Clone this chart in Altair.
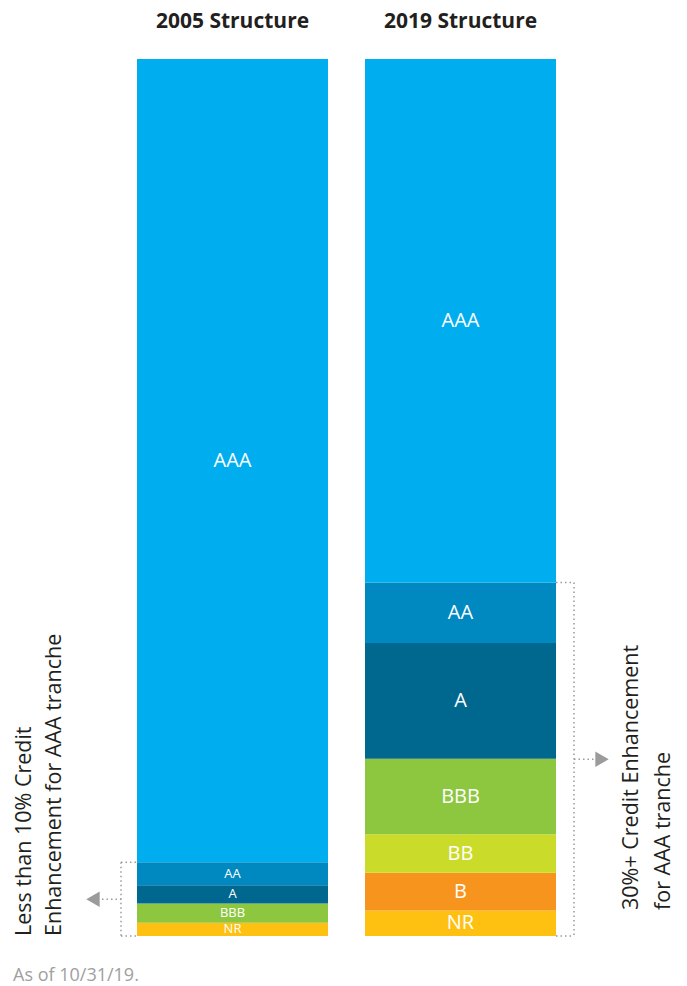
import altair as alt
import pandas as pd

# ---- data (percent of deal) ----
years = ["2005 Structure", "2019 Structure"]
ratings_2005 = ["AAA", "AA", "A", "BBB", "NR"]
values_2005 = [91.6, 2.6, 2.1, 2.2, 1.5]
ratings_2019 = ["AAA", "AA", "A", "BBB", "BB", "B", "NR"]
values_2019 = [59.7, 6.9, 13.2, 8.6, 4.4, 4.3, 2.9]
rating_order = ["AAA", "AA", "A", "BBB", "BB", "B", "NR"]
rating_colors = ["#00AEEF", "#0089C1", "#00678F", "#8DC63F", "#CBDB2A", "#F7941D", "#FEC111"]
left_note = ["Less than 10% Credit", "Enhancement for AAA tranche"]
right_note = ["30%+ Credit Enhancement", "for AAA tranche"]
footnote = "As of 10/31/19."

# ---- build stacked table (bottom-up) ----
rows = []
for year, rs, vs in [(years[0], ratings_2005, values_2005), (years[1], ratings_2019, values_2019)]:
    base = 0.0
    for r, v in reversed(list(zip(rs, vs))):
        rows.append({"Year": year, "Rating": r, "y0": base, "y1": base + v,
                     "mid": base + v / 2, "small": (year == years[0] and r != "AAA")})
        base += v
df = pd.DataFrame(rows)

ann = pd.DataFrame({
    "Year": years,
    "top": [100 - values_2005[0], 100 - values_2019[0]],
    "bottom": [0.0, 0.0],
})
ann["mid"] = (ann["top"] + ann["bottom"]) / 2
ann_l = ann[ann.Year == years[0]]
ann_r = ann[ann.Year == years[1]]

FONT = "Open Sans"
DARK = "#231F20"
GREY = "#9B9B9B"

xscale = alt.Scale(domain=years, range=[129, 548], paddingInner=0.1623, paddingOuter=0)
yscale = alt.Scale(domain=[0, 100], range=[928, 51])

bars = alt.Chart(df).mark_bar(stroke=None).encode(
    x=alt.X("Year:N", scale=xscale, axis=None),
    y=alt.Y("y0:Q", scale=yscale, axis=None),
    y2="y1:Q",
    color=alt.Color("Rating:N", scale=alt.Scale(domain=rating_order, range=rating_colors), legend=None),
)

labels = alt.Chart(df).transform_calculate(
    fs="datum.small ? 13 : 20"
).mark_text(color="white", font=FONT, baseline="middle").encode(
    x=alt.X("Year:N", scale=xscale, axis=None),
    y=alt.Y("mid:Q", scale=yscale, axis=None),
    text="Rating:N",
    size=alt.Size("fs:Q", scale=None, legend=None),
)

titles = alt.Chart(pd.DataFrame({"Year": years})).mark_text(
    font=FONT, fontWeight="bold", fontSize=21, color=DARK, baseline="alphabetic"
).encode(
    x=alt.X("Year:N", scale=xscale, axis=None),
    y=alt.value(20),
    text="Year:N",
)

dot = dict(color=GREY, strokeDash=[1.5, 3], strokeWidth=1.5)

# left bracket
l_vert = alt.Chart(ann_l).mark_rule(**dot).encode(
    x=alt.value(113), y=alt.Y("top:Q", scale=yscale, axis=None), y2="bottom:Q")
l_top = alt.Chart(ann_l).mark_rule(**dot).encode(
    x=alt.value(113), x2=alt.value(129), y=alt.Y("top:Q", scale=yscale, axis=None))
l_bot = alt.Chart(ann_l).mark_rule(**dot).encode(
    x=alt.value(113), x2=alt.value(129), y=alt.Y("bottom:Q", scale=yscale, axis=None))
l_arrow = alt.Chart(ann_l).mark_rule(**dot).encode(
    x=alt.value(94), x2=alt.value(113), y=alt.Y("mid:Q", scale=yscale, axis=None))
l_head = alt.Chart(ann_l).mark_point(shape="triangle-left", filled=True, color=GREY, size=240, opacity=1).encode(
    x=alt.value(85), y=alt.Y("mid:Q", scale=yscale, axis=None))

# right bracket
r_vert = alt.Chart(ann_r).mark_rule(**dot).encode(
    x=alt.value(566), y=alt.Y("top:Q", scale=yscale, axis=None), y2="bottom:Q")
r_top = alt.Chart(ann_r).mark_rule(**dot).encode(
    x=alt.value(548), x2=alt.value(566), y=alt.Y("top:Q", scale=yscale, axis=None))
r_bot = alt.Chart(ann_r).mark_rule(**dot).encode(
    x=alt.value(548), x2=alt.value(566), y=alt.Y("bottom:Q", scale=yscale, axis=None))
r_arrow = alt.Chart(ann_r).mark_rule(**dot).encode(
    x=alt.value(566), x2=alt.value(586), y=alt.Y("mid:Q", scale=yscale, axis=None))
r_head = alt.Chart(ann_r).mark_point(shape="triangle-right", filled=True, color=GREY, size=240, opacity=1).encode(
    x=alt.value(594), y=alt.Y("mid:Q", scale=yscale, axis=None))

one = pd.DataFrame({"k": [0]})
l_text = alt.Chart(one).mark_text(
    text=left_note, font=FONT, fontSize=21.5, color=DARK, angle=270,
    align="left", baseline="top", lineHeight=30,
).encode(x=alt.value(6), y=alt.value(928))
r_text = alt.Chart(one).mark_text(
    text=right_note, font=FONT, fontSize=21.5, color=DARK, angle=270,
    align="left", baseline="top", lineHeight=32,
).encode(x=alt.value(613), y=alt.value(902))

foot = alt.Chart(one).mark_text(
    text=footnote, font=FONT, fontSize=18, color="#A0A0A0", align="left", baseline="alphabetic"
).encode(x=alt.value(5), y=alt.value(973))

chart = alt.layer(
    bars, labels, titles,
    l_vert, l_top, l_bot, l_arrow, l_head,
    r_vert, r_top, r_bot, r_arrow, r_head,
    l_text, r_text, foot,
).properties(
    width=668, height=978, autosize=alt.AutoSizeParams(type="none"), padding=0,
).configure_view(stroke=None)

chart.save("out.html", embed_options={"renderer": "svg", "actions": False})
